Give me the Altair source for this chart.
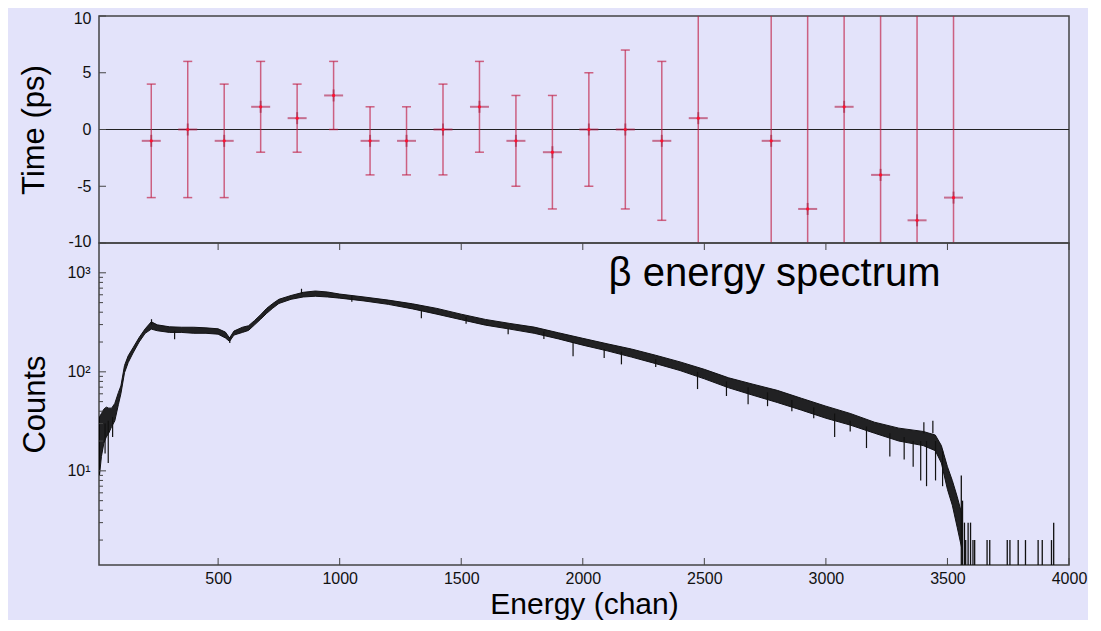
import altair as alt
import pandas as pd

# ---------------- data ----------------
# top panel: time offset per energy bin (ps)
bin_centers = [225, 375, 525, 675, 825, 975, 1125, 1275, 1425, 1575, 1725,
               1875, 2025, 2175, 2325, 2475, 2775, 2925, 3075, 3225, 3375, 3525]
time_ps = [-1, 0, -1, 2, 1, 3, -1, -1, 0, 2, -1, -2, 0, 0, -1, 1, -1, -7, 2, -4, -8, -6]
time_err = [5, 6, 5, 4, 3, 3, 3, 3, 4, 4, 4, 5, 5, 7, 7, 25, 25, 25, 25, 25, 25, 25]

# bottom panel: beta spectrum, lower / upper envelope of the noisy trace
env_chan = [12, 20, 30, 40, 50, 62, 75, 90, 100, 115, 130, 150, 175, 200, 225, 250,
            300, 350, 400, 450, 500, 530, 547, 565, 600, 625, 650, 675, 700, 725,
            750, 800, 850, 900, 950, 1000, 1100, 1200, 1300, 1400, 1500, 1600,
            1700, 1800, 1900, 2000, 2100, 2200, 2300, 2400, 2500, 2600, 2700,
            2800, 2900, 3000, 3100, 3200, 3300, 3400, 3450, 3475, 3500, 3520,
            3540, 3560]
env_lo = [9, 14, 19, 22, 24, 28, 32, 47, 60, 98, 124, 155, 200, 245, 270, 260,
          250, 250, 245, 245, 240, 220, 203, 235, 250, 262, 298, 340, 390, 440,
          490, 540, 570, 580, 570, 555, 520, 480, 432, 382, 336, 296,
          270, 245, 215, 186, 163, 141, 121, 103, 85, 69, 58,
          49, 41, 34, 29, 24, 20, 18, 16, 12, 6.5, 4.5,
          2.7, 1.6]
env_hi = [35, 38, 42, 44, 43, 43, 48, 62, 72, 116, 145, 175, 222, 272, 320, 298,
          285, 282, 282, 278, 272, 252, 220, 258, 282, 292, 330, 378, 438, 490,
          540, 590, 635, 655, 640, 610, 570, 530, 486, 437, 382, 338,
          308, 283, 248, 218, 192, 170, 147, 126, 106, 87, 75,
          65, 54, 45, 38, 31, 27, 25, 23, 18, 11, 8,
          5.5, 3.6]

# single-channel spikes poking out of the band
spike_chan = [35, 48, 66, 226, 321, 548, 843, 1050, 1336, 1520, 1693, 1840, 1960,
              2088, 2159, 2300, 2472, 2591, 2680, 2760, 2860, 2950, 3036, 3100,
              3167, 3263, 3322, 3359, 3390, 3403, 3414, 3440, 3451, 3480]
spike_from = [30, 32, 35, 300, 260, 225, 610, 580, 420, 360, 275, 255, 200,
              170, 160, 135, 100, 80, 70, 62, 52, 44, 38, 32,
              28, 24, 22, 20, 20, 24, 20, 24, 20, 16]
spike_to = [15, 12, 22, 340, 213, 195, 690, 510, 348, 305, 240, 215, 144,
            138, 119, 112, 67, 57, 47, 45, 40, 34, 22, 25,
            17, 14, 13, 11, 8, 31, 7, 32, 8, 7]

# isolated counts in the tail
tail_chan = [3557, 3562, 3570, 3575, 3585, 3595, 3605, 3612, 3663, 3674,
             3746, 3757, 3791, 3821, 3873, 3890, 3928, 3937]
tail_counts = [9, 5, 3, 2, 3, 3, 2, 2, 2, 2, 2, 2, 2, 2, 2, 2, 2, 3]

x_ticks = [500, 1000, 1500, 2000, 2500, 3000, 3500, 4000]
time_ticks = [-10, -5, 0, 5, 10]
log_major = [10, 100, 1000]
log_minor = [2, 3, 4, 5, 6, 7, 8, 9, 20, 30, 40, 50, 60, 70, 80, 90,
             200, 300, 400, 500, 600, 700, 800, 900]

# ---------------- styling ----------------
FONT = "Liberation Sans"
W, H1, H2 = 970, 227, 322
XDOM = [10, 4000]
YDOM_LOG = [1.12, 2000]
ERR_COLOR = "#c01a40"
BG = "#e3e3fa"

xscale = alt.Scale(domain=XDOM, nice=False, zero=False)

# ---------------- top panel ----------------
ydef_top = dict(
    scale=alt.Scale(domain=[-10, 10], nice=False, zero=False),
    axis=alt.Axis(values=time_ticks, labelExpr="'' + datum.value", title="Time (ps)",
                  ticks=False, domain=False, grid=False, labelPadding=8,
                  labelFlush=True, labelFlushOffset=6,
                  titlePadding=17, labelFontSize=16, titleFontSize=31,
                  titleFontWeight="normal", labelFont=FONT, titleFont=FONT,
                  labelColor="#111", titleColor="#000"),
)

err_df = pd.DataFrame({
    "chan": bin_centers,
    "t": time_ps,
    "lo": [v - e for v, e in zip(time_ps, time_err)],
    "hi": [v + e for v, e in zip(time_ps, time_err)],
})

zero_df = pd.DataFrame({"t": [0]})
ytick_df = pd.DataFrame({"t": time_ticks})

zero_line = alt.Chart(zero_df).mark_rule(color="#222", strokeWidth=1).encode(
    y=alt.Y("t:Q", **ydef_top))
y_ticks_top = alt.Chart(ytick_df).mark_rule(color="#444", strokeWidth=1).encode(
    y=alt.Y("t:Q", **ydef_top), x=alt.value(0), x2=alt.value(7))

err_rules = alt.Chart(err_df).mark_rule(color=ERR_COLOR, opacity=0.65, strokeWidth=1.5, clip=True).encode(
    x=alt.X("chan:Q", scale=xscale, axis=None),
    y=alt.Y("lo:Q", **ydef_top),
    y2="hi:Q")
caps_lo = alt.Chart(err_df).mark_tick(orient="horizontal", color=ERR_COLOR, opacity=0.65,
                                      size=9, thickness=1.5, clip=True).encode(
    x=alt.X("chan:Q", scale=xscale, axis=None),
    y=alt.Y("lo:Q", **ydef_top))
caps_hi = alt.Chart(err_df).mark_tick(orient="horizontal", color=ERR_COLOR, opacity=0.65,
                                      size=9, thickness=1.5, clip=True).encode(
    x=alt.X("chan:Q", scale=xscale, axis=None),
    y=alt.Y("hi:Q", **ydef_top))
hbar = alt.Chart(err_df).mark_tick(orient="horizontal", color="#b02048", opacity=0.6,
                                   size=19, thickness=2).encode(
    x=alt.X("chan:Q", scale=xscale, axis=None),
    y=alt.Y("t:Q", **ydef_top))
vbar = alt.Chart(err_df).mark_tick(orient="vertical", color="#a01838", opacity=0.55,
                                   size=12, thickness=2).encode(
    x=alt.X("chan:Q", scale=xscale, axis=None),
    y=alt.Y("t:Q", **ydef_top))
dots = alt.Chart(err_df).mark_point(filled=True, color="#ff1030", size=10, opacity=1).encode(
    x=alt.X("chan:Q", scale=xscale, axis=None),
    y=alt.Y("t:Q", **ydef_top))

top = alt.layer(zero_line, y_ticks_top, err_rules, caps_lo, caps_hi, hbar, vbar, dots).properties(
    width=W, height=H1)

# ---------------- bottom panel ----------------
label_expr = "datum.value == 10 ? '10¹' : datum.value == 100 ? '10²' : '10³'"

ydef_bot = dict(
    scale=alt.Scale(type="log", domain=YDOM_LOG, nice=False),
    axis=alt.Axis(values=log_major, labelExpr=label_expr, title="Counts",
                  ticks=False, domain=False, grid=False, labelPadding=9,
                  titlePadding=15, labelFontSize=16, titleFontSize=31,
                  titleFontWeight="normal", labelFont=FONT, titleFont=FONT,
                  labelColor="#111", titleColor="#000"),
)
xdef_bot = dict(
    scale=xscale,
    axis=alt.Axis(values=x_ticks, format="d", title="Energy (chan)", ticks=False,
                  domain=False, grid=False, labelPadding=5,
                  titleBaseline="alphabetic", titleY=48,
                  labelFontSize=16, titleFontSize=30, titleFontWeight="normal",
                  labelFont=FONT, titleFont=FONT, labelColor="#111",
                  titleColor="#000", labelFlush=False),
)

env_df = pd.DataFrame({"chan": env_chan, "lo": env_lo, "hi": env_hi})
spike_df = pd.DataFrame({"chan": spike_chan, "a": spike_from, "b": spike_to})
tail_df = pd.DataFrame({"chan": tail_chan, "c": tail_counts})
xt_df = pd.DataFrame({"chan": x_ticks})
maj_df = pd.DataFrame({"c": log_major})
min_df = pd.DataFrame({"c": log_minor})
note_df = pd.DataFrame({"chan": [2106], "c": [730], "label": ["β energy spectrum"]})

band = alt.Chart(env_df).mark_area(color="#111", stroke="#000", strokeWidth=1,
                                   opacity=0.92, clip=True).encode(
    x=alt.X("chan:Q", **xdef_bot),
    y=alt.Y("lo:Q", **ydef_bot),
    y2="hi:Q")
spikes = alt.Chart(spike_df).mark_rule(color="#111", strokeWidth=1.2, clip=True).encode(
    x=alt.X("chan:Q", **xdef_bot),
    y=alt.Y("a:Q", **ydef_bot),
    y2="b:Q")
tail = alt.Chart(tail_df).mark_rule(color="#111", strokeWidth=1.3, clip=True).encode(
    x=alt.X("chan:Q", **xdef_bot),
    y=alt.Y("c:Q", **ydef_bot),
    y2=alt.value(H2))
xt_bottom = alt.Chart(xt_df).mark_rule(color="#444", strokeWidth=1).encode(
    x=alt.X("chan:Q", **xdef_bot), y=alt.value(H2), y2=alt.value(H2 - 7))
xt_top = alt.Chart(xt_df).mark_rule(color="#444", strokeWidth=1).encode(
    x=alt.X("chan:Q", **xdef_bot), y=alt.value(0), y2=alt.value(7))
ymaj = alt.Chart(maj_df).mark_rule(color="#444", strokeWidth=1).encode(
    y=alt.Y("c:Q", **ydef_bot), x=alt.value(0), x2=alt.value(7))
ymin = alt.Chart(min_df).mark_rule(color="#444", strokeWidth=1).encode(
    y=alt.Y("c:Q", **ydef_bot), x=alt.value(0), x2=alt.value(4))
note = alt.Chart(note_df).mark_text(align="left", baseline="alphabetic", fontSize=40,
                                    font=FONT, color="#000").encode(
    x=alt.X("chan:Q", **xdef_bot),
    y=alt.Y("c:Q", **ydef_bot),
    text="label:N")

bottom = alt.layer(band, spikes, tail, xt_bottom, xt_top, ymaj, ymin, note).properties(
    width=W, height=H2)

chart = alt.vconcat(top, bottom, spacing=0, bounds="flush").properties(
    padding={"left": 10, "top": 1, "right": 0, "bottom": 0},
    background=BG,
).configure_view(stroke="#444", strokeWidth=1.5)

chart.save("out.html", embed_options={"renderer": "svg", "actions": False})
